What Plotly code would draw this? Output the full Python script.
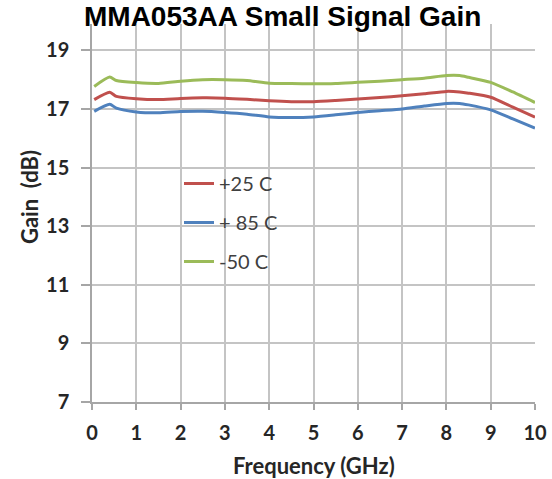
import plotly.graph_objects as go

freq = [0.05, 0.4, 0.55, 1.0, 1.5, 2.0, 2.5, 3.0, 3.5, 4.0, 4.5, 5.0, 5.5, 6.0,
        6.5, 7.0, 7.5, 8.0, 8.3, 8.5, 9.0, 9.5, 10.0]
gain_p25 = [17.32, 17.57, 17.43, 17.35, 17.32, 17.36, 17.38, 17.37, 17.33, 17.28,
            17.25, 17.25, 17.29, 17.34, 17.39, 17.45, 17.52, 17.60, 17.58, 17.54,
            17.40, 17.06, 16.72]
gain_p85 = [16.92, 17.16, 17.03, 16.90, 16.87, 16.91, 16.92, 16.88, 16.82, 16.73,
            16.71, 16.73, 16.80, 16.88, 16.94, 17.00, 17.10, 17.19, 17.19, 17.14,
            16.97, 16.66, 16.35]
gain_m50 = [17.77, 18.09, 17.97, 17.90, 17.87, 17.95, 18.00, 18.00, 17.97, 17.88,
            17.87, 17.86, 17.87, 17.91, 17.95, 18.00, 18.05, 18.14, 18.14, 18.08,
            17.91, 17.58, 17.22]
series_names = ["+25 C", "+ 85 C", "-50 C"]
series_colors = ["#C0504D", "#4F81BD", "#9BBB59"]
x_ticks = list(range(0, 11))
y_ticks = [7, 9, 11, 13, 15, 17, 19]

title_text = "MMA053AA Small Signal Gain"
x_title = "Frequency (GHz)"
y_title = "Gain  (dB)"

fig = go.Figure()
for i, (name, vals) in enumerate(zip(series_names, [gain_p25, gain_p85, gain_m50])):
    fig.add_trace(go.Scatter(
        x=freq, y=vals, mode="lines", name=name,
        line=dict(color=series_colors[i], width=3, shape="spline", smoothing=0.6),
        legendgroup=str(i),
    ))

W, H = 552, 479
ml, mr, mt, mb = 92, 17, 24, 77
PW, PH = W - ml - mr, H - mt - mb

tick_font = dict(size=20, family="Lato, sans-serif", color="#262626", weight="bold")

fig.update_layout(
    width=W, height=H,
    margin=dict(l=ml, r=mr, t=mt, b=mb, autoexpand=False),
    paper_bgcolor="white", plot_bgcolor="white",
    font=dict(family="Lato, Carlito, sans-serif", color="#262626"),
    showlegend=True,
    legend=dict(
        x=(179 - ml) / PW, y=1 - (164 - mt) / PH,
        xanchor="left", yanchor="top",
        bgcolor="rgba(0,0,0,0)", borderwidth=0,
        font=dict(size=20, color="#404040", family="Lato, sans-serif"),
        tracegroupgap=10, itemwidth=30,
    ),
    xaxis=dict(
        range=[0, 10], tickvals=x_ticks, ticktext=[str(v) for v in x_ticks],
        showgrid=True, gridcolor="#c4c4c4", gridwidth=1.5,
        showline=True, linecolor="#a6a6a6", linewidth=1.5,
        ticks="outside", ticklen=6, tickcolor="#a6a6a6", tickwidth=1.5,
        tickfont=tick_font, ticklabelstandoff=6,
        zeroline=False, automargin=False,
    ),
    yaxis=dict(
        range=[7, 19.9], tickvals=y_ticks, ticktext=[str(v) for v in y_ticks],
        showgrid=True, gridcolor="#c4c4c4", gridwidth=1.5,
        showline=True, linecolor="#a6a6a6", linewidth=1.5,
        ticks="outside", ticklen=9, tickcolor="#a6a6a6", tickwidth=1.5,
        tickfont=tick_font, ticklabelstandoff=8,
        zeroline=False, automargin=False,
    ),
    annotations=[
        dict(text="<b>" + title_text + "</b>", xref="paper", yref="paper",
             x=(282 - ml) / PW, y=1 + (mt - 17) / PH,
             xanchor="center", yanchor="middle", showarrow=False,
             font=dict(size=28, family="Liberation Sans, Arial, sans-serif", color="black")),
        dict(text="<b>" + x_title + "</b>", xref="paper", yref="paper",
             x=(314 - ml) / PW, y=-(465 - (H - mb)) / PH,
             xanchor="center", yanchor="middle", showarrow=False,
             font=dict(size=22, family="Lato, sans-serif", color="#262626")),
        dict(text="<b>" + y_title + "</b>", xref="paper", yref="paper",
             x=-(ml - 29) / PW, y=1 - (197 - mt) / PH,
             xanchor="center", yanchor="middle", showarrow=False, textangle=-90,
             font=dict(size=22, family="Lato, sans-serif", color="#262626")),
    ],
)

fig.write_html("out.html", config={"displayModeBar": False},
               post_script="document.body.style.margin='0';document.body.style.overflow='hidden';")
